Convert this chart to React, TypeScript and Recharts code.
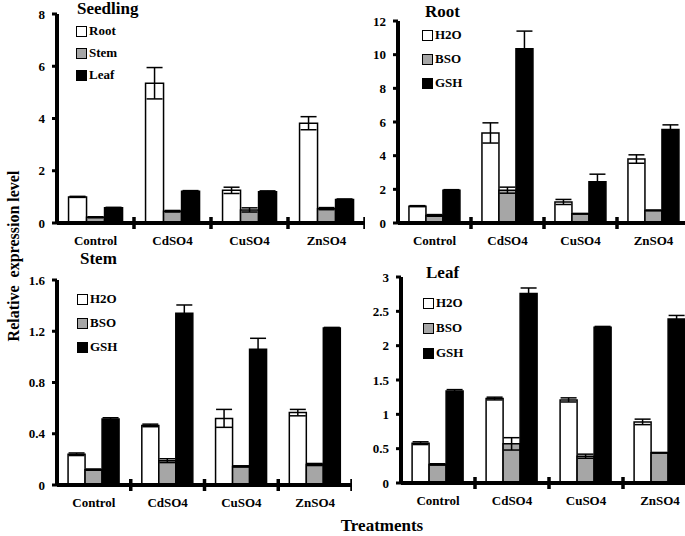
import { Bar, BarChart, ErrorBar, Legend, XAxis, YAxis } from 'recharts';

const categories = ['Control', 'CdSO4', 'CuSO4', 'ZnSO4'];

const seedlingRoot = [1.0, 5.35, 1.25, 3.82];
const seedlingRootErr = [0.02, 0.6, 0.12, 0.25];
const seedlingStem = [0.22, 0.45, 0.5, 0.55];
const seedlingStemErr = [0.02, 0.03, 0.08, 0.04];
const seedlingLeaf = [0.58, 1.22, 1.2, 0.9];
const seedlingLeafErr = [0.02, 0.02, 0.03, 0.02];

const rootH2O = [1.0, 5.35, 1.25, 3.8];
const rootH2OErr = [0.03, 0.6, 0.15, 0.25];
const rootBSO = [0.45, 1.95, 0.55, 0.75];
const rootBSOErr = [0.05, 0.18, 0.02, 0.02];
const rootGSH = [1.95, 10.35, 2.45, 5.55];
const rootGSHErr = [0.03, 1.05, 0.45, 0.28];

const stemH2O = [0.24, 0.465, 0.52, 0.565];
const stemH2OErr = [0.01, 0.01, 0.07, 0.025];
const stemBSO = [0.12, 0.19, 0.145, 0.16];
const stemBSOErr = [0.005, 0.015, 0.005, 0.008];
const stemGSH = [0.515, 1.34, 1.06, 1.225];
const stemGSHErr = [0.01, 0.065, 0.085, 0.005];

const leafH2O = [0.58, 1.23, 1.21, 0.89];
const leafH2OErr = [0.02, 0.02, 0.03, 0.04];
const leafBSO = [0.27, 0.57, 0.39, 0.44];
const leafBSOErr = [0.01, 0.09, 0.03, 0.005];
const leafGSH = [1.34, 2.76, 2.27, 2.39];
const leafGSHErr = [0.02, 0.08, 0.01, 0.05];

const treatmentNames = ['H2O', 'BSO', 'GSH'];
const tissueNames = ['Root', 'Stem', 'Leaf'];

const FONT = '"Liberation Serif", "Times New Roman", serif';
const FILLS = ['#ffffff', '#a6a6a6', '#000000'];

function buildRows(values: number[][], errs: number[][]) {
  return categories.map((cat, i) => ({
    cat,
    s0: values[0][i],
    e0: errs[0][i],
    s1: values[1][i],
    e1: errs[1][i],
    s2: values[2][i],
    e2: errs[2][i],
  }));
}

interface PanelProps {
  title: string;
  names: string[];
  values: number[][];
  errs: number[][];
  max: number;
  ticks: number[];
  left: number;
  top: number;
  plotW: number;
  plotH: number;
  legendX: number;
  titleX: number;
  titleY: number;
  rowY0: number;
  rowGap: number;
}

const Y_W = 45;
const X_H = 30;
const M_TOP = 10;
const TITLE_H = 18;

function Panel(p: PanelProps) {
  const data = buildRows(p.values, p.errs);
  const band = p.plotW / categories.length;
  const chartLeft = p.left - Y_W;
  const chartTop = p.top - M_TOP;

  const CatTick = (props: any) => {
    const { x, y, payload, index } = props;
    const mx = x + band / 2;
    return (
      <g>
        <text
          x={x}
          y={y + 22}
          textAnchor="middle"
          fill="#000"
          fontSize={13}
          fontWeight="bold"
          fontFamily={FONT}
        >
          {payload.value}
        </text>
        {index < categories.length && (
          <line x1={mx} x2={mx} y1={y - 6} y2={y + 6} stroke="#000" strokeWidth={3.5} />
        )}
      </g>
    );
  };

  // legend order follows the series order, not the alphabetical payload order
  const renderLegend = () => (
    <div style={{ fontFamily: FONT, color: '#000', fontWeight: 'bold' }}>
      <div
        style={{
          fontSize: 17,
          lineHeight: `${TITLE_H}px`,
          marginLeft: p.titleX - p.legendX,
          marginBottom: p.rowY0 - p.titleY - TITLE_H / 2 - p.rowGap / 2,
        }}
      >
        {p.title}
      </div>
      {p.names.map((name, i) => (
        <div
          key={name}
          style={{ display: 'flex', alignItems: 'center', height: p.rowGap, fontSize: 13 }}
        >
          <span
            style={{
              display: 'inline-block',
              width: 9,
              height: 9,
              border: '1px solid #000',
              background: FILLS[i],
              marginRight: 2,
            }}
          />
          {name}
        </div>
      ))}
    </div>
  );

  return (
    <div style={{ position: 'absolute', left: chartLeft, top: chartTop }}>
      <BarChart
        width={Y_W + p.plotW}
        height={M_TOP + p.plotH + X_H}
        data={data}
        margin={{ top: M_TOP, right: 0, bottom: 0, left: 0 }}
        barCategoryGap="15%"
        barGap={0}
      >
        <XAxis
          dataKey="cat"
          height={X_H}
          axisLine={{ stroke: '#000', strokeWidth: 4 }}
          tickLine={false}
          tickSize={0}
          tickMargin={0}
          interval={0}
          tick={<CatTick />}
        />
        <YAxis
          width={Y_W}
          domain={[0, p.max]}
          ticks={p.ticks}
          allowDataOverflow
          axisLine={{ stroke: '#000', strokeWidth: 4 }}
          tickLine={{ stroke: '#000', strokeWidth: 3 }}
          tickSize={5}
          tickMargin={7}
          tick={{ fill: '#000', fontSize: 13, fontWeight: 'bold', fontFamily: FONT }}
        />
        <Legend
          layout="vertical"
          align="center"
          verticalAlign="middle"
          wrapperStyle={{
            top: p.titleY - TITLE_H / 2 - chartTop,
            left: p.legendX - chartLeft,
            width: 'auto',
          }}
          content={renderLegend}
        />
        {[0, 1, 2].map((k) => (
          <Bar
            key={k}
            dataKey={`s${k}`}
            name={p.names[k]}
            fill={FILLS[k]}
            stroke="#000"
            strokeWidth={1.5}
            isAnimationActive={false}
          >
            <ErrorBar dataKey={`e${k}`} width={8} stroke="#000" strokeWidth={1.5} direction="y" />
          </Bar>
        ))}
      </BarChart>
    </div>
  );
}

export default function App() {
  return (
    <div
      style={{
        position: 'absolute',
        left: 0,
        top: 0,
        width: 685,
        height: 536,
        overflow: 'hidden',
        background: '#fff',
        fontFamily: FONT,
      }}
    >
      <Panel
        title="Seedling"
        names={tissueNames}
        values={[seedlingRoot, seedlingStem, seedlingLeaf]}
        errs={[seedlingRootErr, seedlingStemErr, seedlingLeafErr]}
        max={8}
        ticks={[0, 2, 4, 6, 8]}
        left={57}
        top={14}
        plotW={308}
        plotH={209}
        legendX={76}
        titleX={77}
        titleY={9}
        rowY0={31}
        rowGap={22}
      />
      <Panel
        title="Root"
        names={treatmentNames}
        values={[rootH2O, rootBSO, rootGSH]}
        errs={[rootH2OErr, rootBSOErr, rootGSHErr]}
        max={12}
        ticks={[0, 2, 4, 6, 8, 10, 12]}
        left={398}
        top={21}
        plotW={292}
        plotH={202}
        legendX={422}
        titleX={425}
        titleY={12}
        rowY0={35}
        rowGap={24}
      />
      <Panel
        title="Stem"
        names={treatmentNames}
        values={[stemH2O, stemBSO, stemGSH]}
        errs={[stemH2OErr, stemBSOErr, stemGSHErr]}
        max={1.6}
        ticks={[0, 0.4, 0.8, 1.2, 1.6]}
        left={57}
        top={280}
        plotW={295}
        plotH={205}
        legendX={77}
        titleX={80}
        titleY={259}
        rowY0={299}
        rowGap={24}
      />
      <Panel
        title="Leaf"
        names={treatmentNames}
        values={[leafH2O, leafBSO, leafGSH]}
        errs={[leafH2OErr, leafBSOErr, leafGSHErr]}
        max={3}
        ticks={[0, 0.5, 1, 1.5, 2, 2.5, 3]}
        left={401}
        top={277}
        plotW={296}
        plotH={206}
        legendX={423}
        titleX={426}
        titleY={273}
        rowY0={303}
        rowGap={25}
      />
      <div
        style={{
          position: 'absolute',
          left: 14,
          top: 256,
          transform: 'translate(-50%, -50%) rotate(-90deg)',
          whiteSpace: 'nowrap',
          fontSize: 16,
          fontWeight: 'bold',
          color: '#000',
        }}
      >
        Relative&nbsp; expression level
      </div>
      <div
        style={{
          position: 'absolute',
          left: 382,
          top: 526,
          transform: 'translate(-50%, -50%)',
          whiteSpace: 'nowrap',
          fontSize: 17,
          lineHeight: '18px',
          fontWeight: 'bold',
          color: '#000',
        }}
      >
        Treatments
      </div>
    </div>
  );
}
